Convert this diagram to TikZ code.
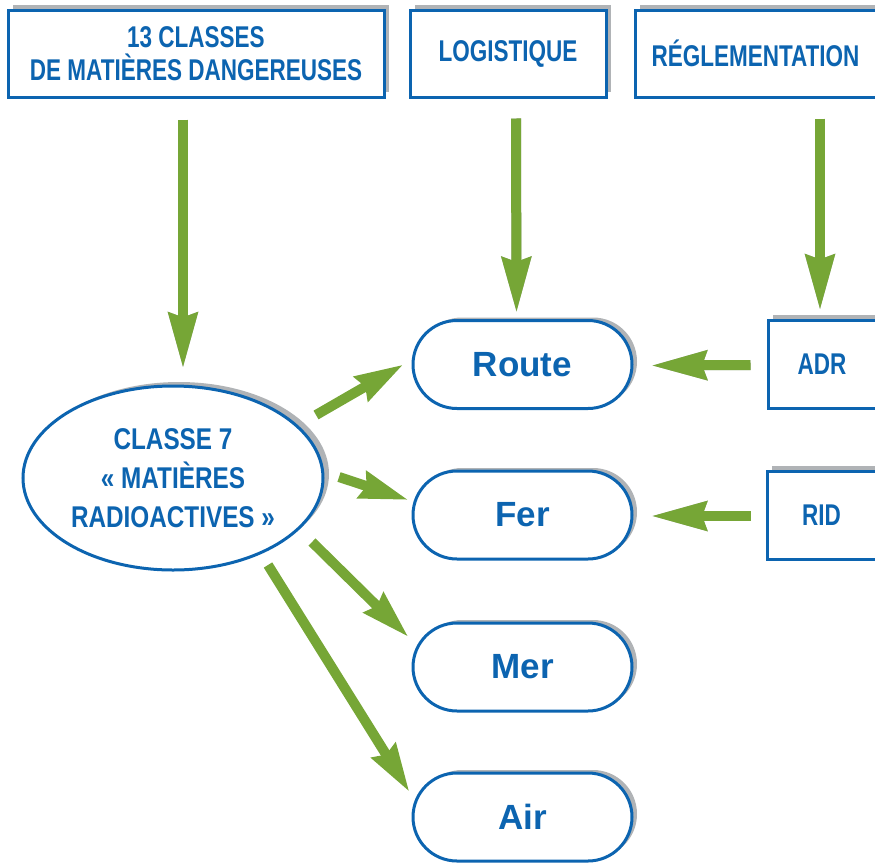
\documentclass[tikz,border=0pt]{standalone}
\usepackage{fontspec}
\setmainfont{Liberation Sans}
\newfontfamily\condfont[FakeStretch=0.75]{Liberation Sans}
\newfontfamily\ellfont[FakeStretch=0.81]{Liberation Sans}
\usetikzlibrary{shapes.geometric,shadows,arrows.meta}

\definecolor{frameblue}{RGB}{12,100,176}
\definecolor{arrowgreen}{RGB}{118,166,54}
\definecolor{shadowgrey}{RGB}{176,179,182}

\tikzset{
  labelbox/.style={draw=frameblue, line width=3pt, fill=white, rectangle,
    inner sep=0pt, text=frameblue, align=center,
    font=\condfont\bfseries\fontsize{30}{33}\selectfont,
    general shadow={shadow xshift=5pt, shadow yshift=5pt, fill=shadowgrey}},
  modebox/.style={draw=frameblue, line width=3pt, fill=white, rectangle,
    rounded corners=44pt, minimum width=219pt, minimum height=88pt,
    inner sep=0pt, text=frameblue, font=\bfseries\fontsize{35}{40}\selectfont,
    general shadow={shadow xshift=5pt, shadow yshift=3pt, fill=shadowgrey}},
  classnode/.style={draw=frameblue, line width=3pt, fill=white, ellipse,
    minimum width=300pt, minimum height=184pt, inner sep=0pt,
    text=frameblue, align=center,
    font=\ellfont\bfseries\fontsize{30}{39}\selectfont,
    general shadow={shadow xshift=6pt, shadow yshift=4pt, fill=shadowgrey}},
  bigarrow/.style={draw=arrowgreen, line width=10pt,
    -{Stealth[length=55pt, width=28pt, inset=4pt, fill=arrowgreen]}},
  arrowshadow/.style={draw=shadowgrey, line width=10pt,
    -{Stealth[length=55pt, width=28pt, inset=4pt, fill=shadowgrey]},
    shift={(3,-3)}},
  diagarrow/.style={draw=arrowgreen, line width=10pt,
    -{Stealth[length=48pt, width=27pt, inset=4pt, fill=arrowgreen]}},
}

\begin{document}
\begin{tikzpicture}[x=1pt, y=-1pt]
  \useasboundingbox (0,0) rectangle (875,862);
  \clip (0,0) rectangle (875,862);

  % top row of headings
  \node[labelbox, minimum width=376pt, minimum height=87pt] (box1) at (196,53.5)
    {13 CLASSES\\DE MATIÈRES DANGEREUSES};
  \node[labelbox, minimum width=196pt, minimum height=87pt] (log) at (508,53.5)
    {LOGISTIQUE};
  \node[labelbox, minimum width=241pt, minimum height=87pt] (reg) at (755.5,53.5)
    {RÉGLEMENTATION};

  % class 7 ellipse
  \node[classnode] (cl) at (173,478) {CLASSE 7\\« MATIÈRES\\RADIOACTIVES »};

  % transport modes
  \node[modebox] (route) at (522.5,364.5) {Route};
  \node[modebox] (fer)   at (522.5,515)   {Fer};
  \node[modebox] (mer)   at (522.5,667)   {Mer};
  \node[modebox] (air)   at (522.5,817)   {Air};

  % regulations
  \node[labelbox, minimum width=108pt, minimum height=88pt] (adr) at (822,364) {ADR};
  \node[labelbox, minimum width=109pt, minimum height=88pt] (rid) at (821.5,515) {RID};

  % vertical arrows with their shadows
  \draw[arrowshadow] ([shift={(-13,21)}]box1.south) -- ([shift={(10,-16)}]cl.north);
  \draw[bigarrow]    ([shift={(-13,21)}]box1.south) -- ([shift={(10,-16)}]cl.north);
  \draw[arrowshadow] ([shift={(8,20)}]log.south) -- ([shift={(-6,-6)}]route.north);
  \draw[bigarrow]    ([shift={(8,20)}]log.south) -- ([shift={(-6,-6)}]route.north);
  \draw[arrowshadow] ([shift={(64.5,20)}]reg.south) -- ([shift={(-2,-8)}]adr.north);
  \draw[bigarrow]    ([shift={(64.5,20)}]reg.south) -- ([shift={(-2,-8)}]adr.north);

  % horizontal arrows with their shadows
  \draw[arrowshadow] ([shift={(-16,1)}]adr.west) -- ([shift={(17.5,1)}]route.east);
  \draw[bigarrow]    ([shift={(-16,1)}]adr.west) -- ([shift={(17.5,1)}]route.east);
  \draw[arrowshadow] ([shift={(-15,1)}]rid.west) -- ([shift={(17.5,1)}]fer.east);
  \draw[bigarrow]    ([shift={(-15,1)}]rid.west) -- ([shift={(17.5,1)}]fer.east);

  % arrows from the ellipse to each mode
  \draw[diagarrow] ([shift={(143,-63)}]cl.center) -- ([shift={(-8,0)}]route.west);
  \draw[diagarrow] ([shift={(166,-1)}]cl.center)  -- ([shift={(-3,-15)}]fer.west);
  \draw[diagarrow] ([shift={(139,64)}]cl.center)  -- ([shift={(-3,-30)}]mer.west);
  \draw[diagarrow] ([shift={(95,87)}]cl.center)   -- ([shift={(-2,-25)}]air.west);
\end{tikzpicture}
\end{document}
